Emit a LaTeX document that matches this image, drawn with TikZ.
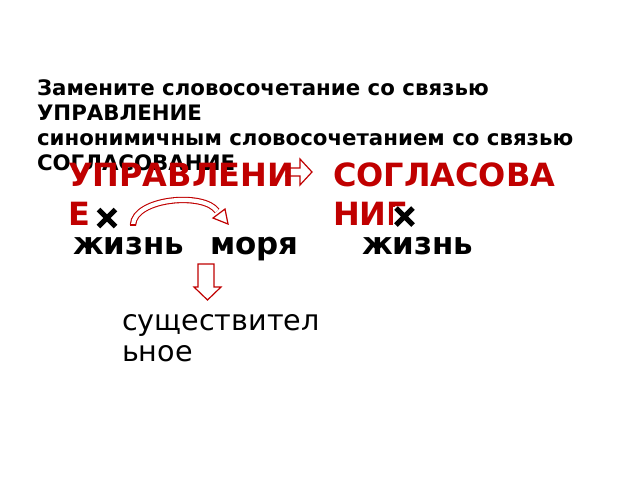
\documentclass[tikz,border=0pt]{standalone}
\usepackage{fontspec}
\setmainfont{DejaVu Sans}
\definecolor{redtxt}{HTML}{C00000}
\tikzset{
  txt/.style={anchor=base west, inner sep=0pt, outer sep=0pt},
  title/.style={txt, font=\bfseries\fontsize{21.3}{25}\selectfont},
  big/.style={txt, font=\bfseries\fontsize{32}{38}\selectfont, text=redtxt},
  word/.style={txt, font=\bfseries\fontsize{30.9}{36}\selectfont},
  plain/.style={txt, font=\fontsize{28.6}{34}\selectfont},
  hollow/.style={draw=redtxt, line width=1.2pt, fill=white, line join=miter},
  cross/.style={line width=5.2pt, black},
}
\begin{document}
\begin{tikzpicture}[x=1pt,y=-1pt]
\useasboundingbox (0,0) rectangle (640,480);
\fill[white] (0,0) rectangle (640,480);
\node[title] (t1) at (37,95) {Замените словосочетание со связью};
\node[title] (t2) at (37,120) {УПРАВЛЕНИЕ};
\node[title] (t3) at (37,145) {синонимичным словосочетанием со связью};
\node[title] (t4) at (37,170) {СОГЛАСОВАНИЕ};
\node[big] (u1) at (68,186) {УПРАВЛЕНИ};
\node[big] (u2) at (68,225) {Е};
\node[big] (s1) at (333,186) {СОГЛАСОВА};
\node[big] (s2) at (333,225) {НИЕ};
% right arrow
\draw[hollow, fill=none] (285,168) -- (300,168) -- (300,159) -- (312,172) -- (300,185) -- (300,176) -- (285,176);
% white patch behind right cross
\fill[white] (393,207) rectangle (420,232);
% crosses
\draw[cross] (98.5,209.5) -- (115.5,226.5) (98.5,226.5) -- (115.5,209.5);
\draw[cross] (396,208) -- (413,225) (396,225) -- (413,208);
% curved arrow
\draw[draw=redtxt, line width=1.1pt, double=white, double distance=4.2pt]
  (133,225) .. controls (134,198) and (204,192) .. (217,211);
\draw[hollow] (225,209) -- (228,224) -- (213,218) -- cycle;
\draw[redtxt, line width=1.1pt] (129.6,225) -- (136.4,225);
\node[word] (w1) at (73,254) {жизнь};
\node[word] (w2) at (210,254) {моря};
\node[word] (w3) at (362,254) {жизнь};
% down arrow
\draw[hollow] (198,264) -- (214,264) -- (214,287) -- (221,287) -- (207.5,300) -- (194,287) -- (198,287) -- cycle;
\node[plain] (n1) at (122,330) {существител};
\node[plain] (n2) at (122,361) {ьное};
\end{tikzpicture}
\end{document}
